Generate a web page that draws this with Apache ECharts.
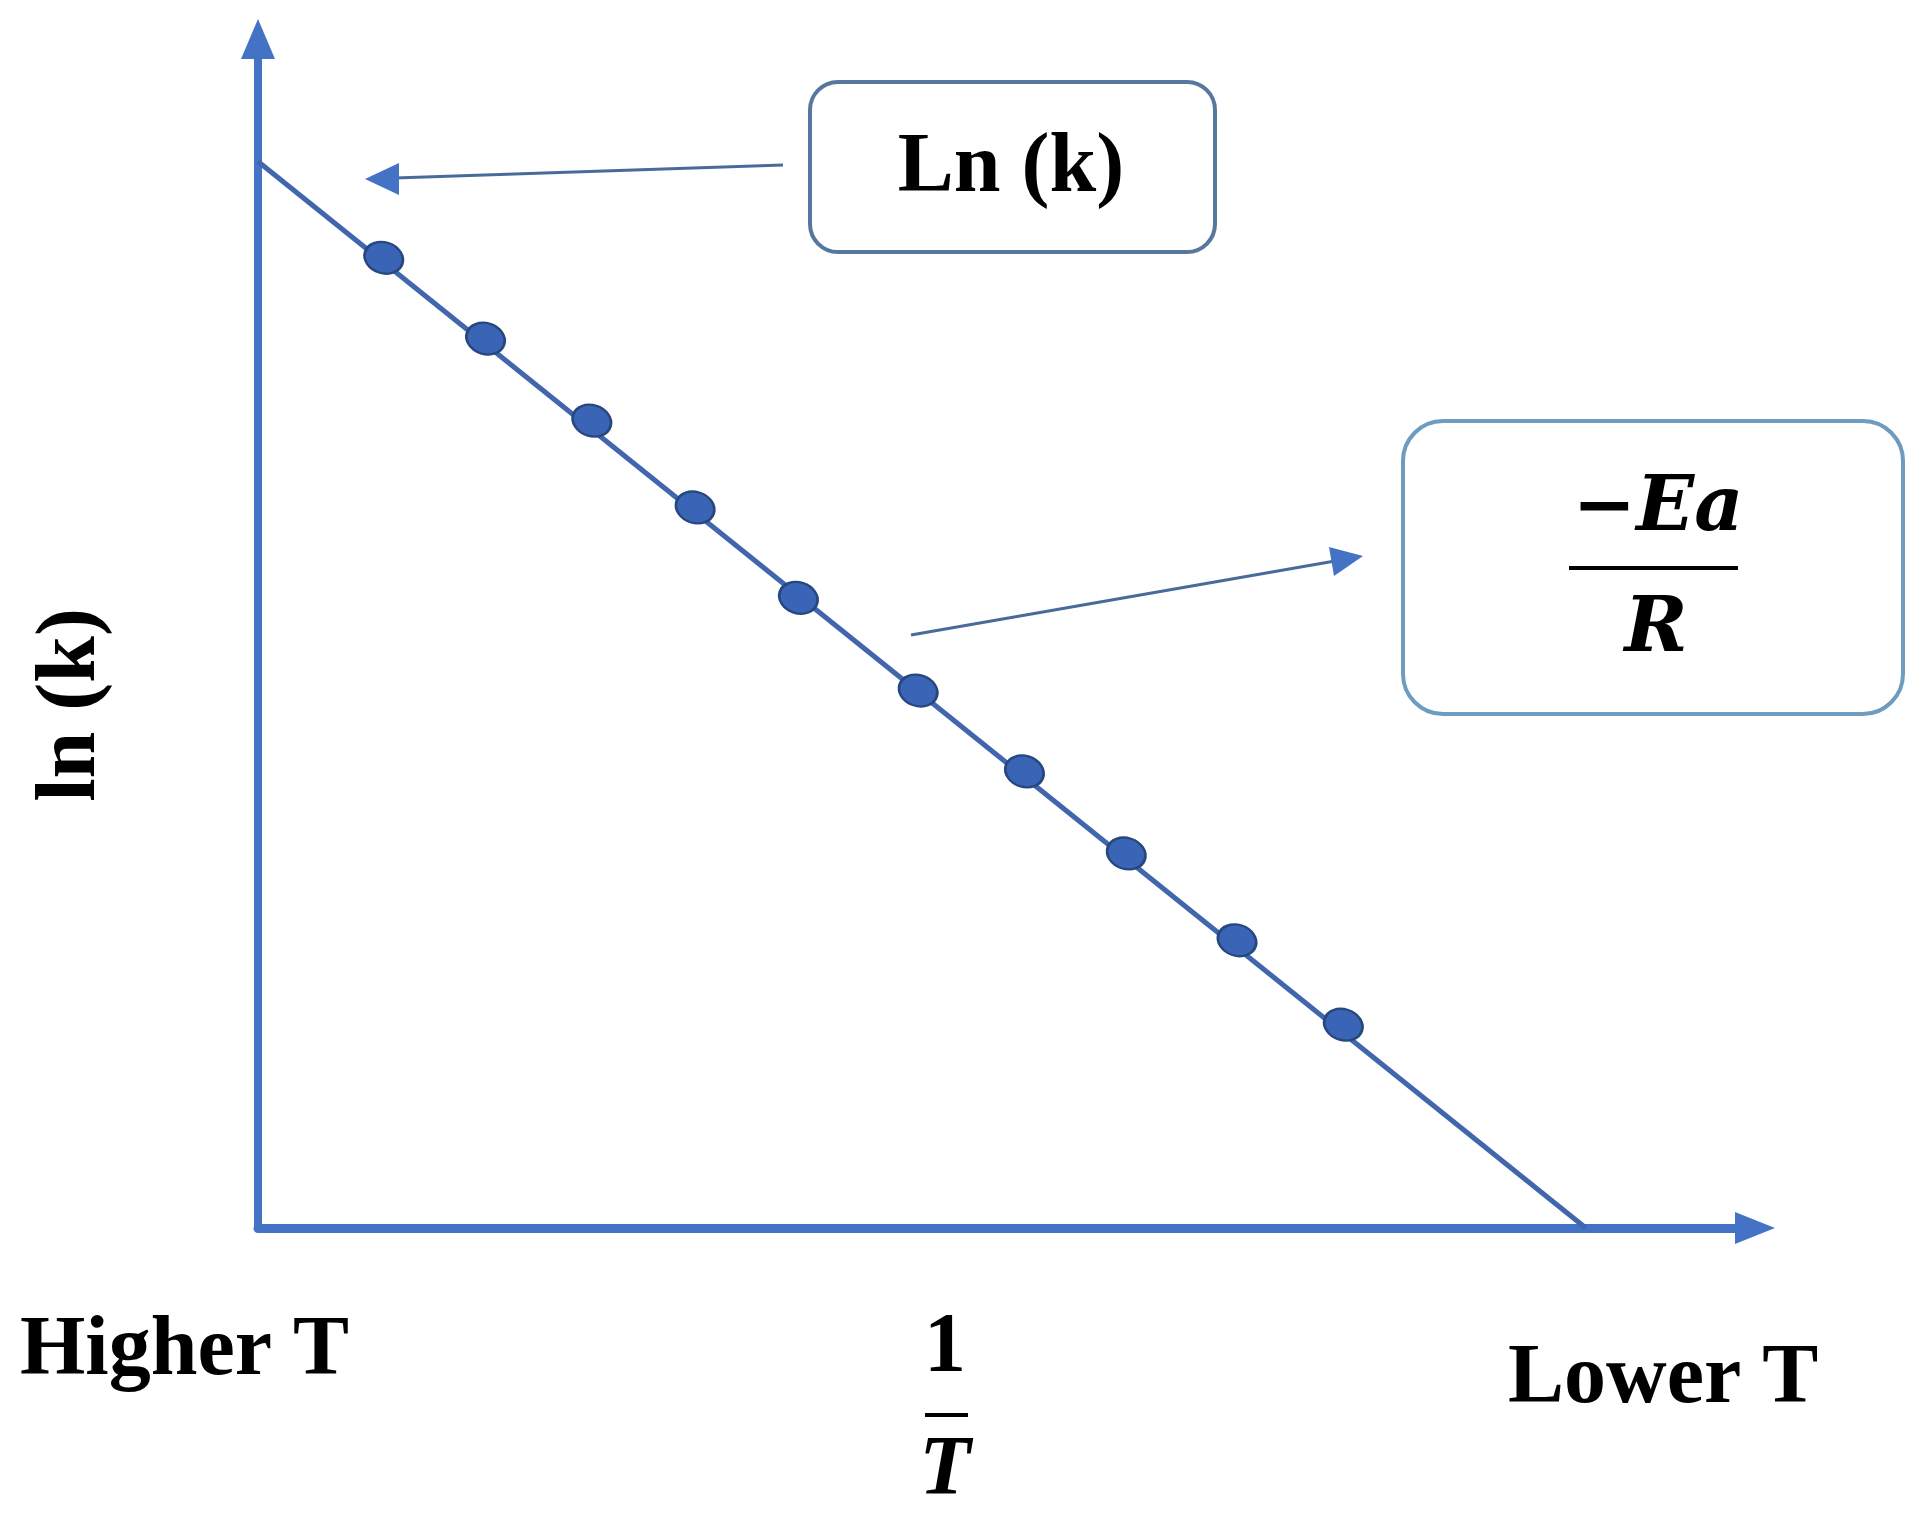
<!DOCTYPE html>
<html>
<head>
<meta charset="utf-8">
<script src="https://cdn.jsdelivr.net/npm/echarts@6/dist/echarts.min.js"></script>
<style>
html,body{margin:0;padding:0;background:#fff;}
#chart{width:1925px;height:1523px;}
</style>
</head>
<body>
<div id="chart"></div>
<script>
// 1/T (arbitrary units) and ln(k) (arbitrary units) of the measured points
const invT = [0.84, 1.52, 2.23, 2.92, 3.61, 4.41, 5.12, 5.80, 6.54, 7.25];
const lnK  = [8.16, 7.48, 6.79, 6.06, 5.30, 4.52, 3.84, 3.15, 2.42, 1.71];
// fitted straight line (intercept on ln(k) axis to intercept on 1/T axis)
const fitX = [0, 8.87];
const fitY = [8.97, 0];
// axis ranges
const xRange = [0, 10];
const yRange = [0, 10];

const FONT = 'Liberation Serif';
const BLUE = '#4472c4';

const chart = echarts.init(document.getElementById('chart'), null, {renderer: 'canvas'});
const option = {
  backgroundColor: '#ffffff',
  animation: false,
  grid: {left: 258, right: 170, top: 39, bottom: 295, containLabel: false},
  xAxis: {
    type: 'value', min: xRange[0], max: xRange[1],
    axisLine: {show: true, lineStyle: {color: BLUE, width: 9}, symbol: ['none', 'triangle'], symbolSize: [32, 40]},
    axisTick: {show: false}, axisLabel: {show: false}, splitLine: {show: false}
  },
  yAxis: {
    type: 'value', min: yRange[0], max: yRange[1],
    axisLine: {show: true, onZero: false, lineStyle: {color: BLUE, width: 8}, symbol: ['none', 'triangle'], symbolSize: [34, 40]},
    axisTick: {show: false}, axisLabel: {show: false}, splitLine: {show: false}
  },
  series: [
    {
      type: 'line',
      data: fitX.map((x, i) => [x, fitY[i]]),
      showSymbol: false,
      lineStyle: {color: '#4266ad', width: 5},
      z: 2
    },
    {
      type: 'scatter',
      data: invT.map((x, i) => [x, lnK[i]]),
      symbol: 'path://M0 16A20 16 0 1 0 40 16A20 16 0 1 0 0 16Z',
      symbolSize: [39, 31],
      symbolRotate: -18,
      itemStyle: {color: '#3a64b5', borderColor: '#27477f', borderWidth: 2.5, opacity: 1},
      z: 3
    }
  ],
  graphic: [
    // Ln (k) callout box
    {type: 'rect', shape: {x: 810, y: 82, width: 405, height: 170, r: 28},
     style: {fill: '#ffffff', stroke: '#56789e', lineWidth: 4}, z: 10},
    {type: 'text', x: 1011, y: 169,
     style: {text: 'Ln (k)', font: 'bold 84px "' + FONT + '"', fill: '#000', textAlign: 'center', textVerticalAlign: 'middle'}, z: 11},
    // arrow from box to intercept
    {type: 'line', shape: {x1: 783, y1: 165, x2: 395, y2: 178}, style: {stroke: '#4a6a9a', lineWidth: 3}, z: 10},
    {type: 'polygon', shape: {points: [[365, 179], [399, 163], [399, 195]]}, style: {fill: BLUE}, z: 10},
    // -Ea/R callout box
    {type: 'rect', shape: {x: 1403, y: 421, width: 500, height: 293, r: 40},
     style: {fill: '#ffffff', stroke: '#6d9cc0', lineWidth: 4}, z: 10},
    {type: 'text', x: 1658, y: 510,
     style: {text: '\u2212Ea', font: 'italic bold 76px "DejaVu Serif"', fill: '#000', textAlign: 'center', textVerticalAlign: 'middle'}, z: 11},
    {type: 'line', shape: {x1: 1569, y1: 568, x2: 1738, y2: 568}, style: {stroke: '#000', lineWidth: 4}, z: 11},
    {type: 'text', x: 1656, y: 631,
     style: {text: 'R', font: 'italic bold 76px "DejaVu Serif"', fill: '#000', textAlign: 'center', textVerticalAlign: 'middle'}, z: 11},
    // arrow from line to slope box
    {type: 'line', shape: {x1: 911, y1: 635, x2: 1335, y2: 561}, style: {stroke: '#4a6a9a', lineWidth: 3}, z: 10},
    {type: 'polygon', shape: {points: [[1363, 556], [1334, 576], [1329, 547]]}, style: {fill: BLUE}, z: 10},
    // y axis title
    {type: 'text', x: 72, y: 705, rotation: Math.PI / 2,
     style: {text: 'ln (k)', font: 'bold 84px "' + FONT + '"', fill: '#000', textAlign: 'center', textVerticalAlign: 'middle'}, z: 11},
    // x axis labels
    {type: 'text', x: 20, y: 1352,
     style: {text: 'Higher T', font: 'bold 84px "' + FONT + '"', fill: '#000', textAlign: 'left', textVerticalAlign: 'middle'}, z: 11},
    {type: 'text', x: 945, y: 1349,
     style: {text: '1', font: 'bold 84px "' + FONT + '"', fill: '#000', textAlign: 'center', textVerticalAlign: 'middle'}, z: 11},
    {type: 'line', shape: {x1: 925, y1: 1415, x2: 968, y2: 1415}, style: {stroke: '#000', lineWidth: 4}, z: 11},
    {type: 'text', x: 945, y: 1472,
     style: {text: 'T', font: 'italic bold 84px "' + FONT + '"', fill: '#000', textAlign: 'center', textVerticalAlign: 'middle'}, z: 11},
    {type: 'text', x: 1508, y: 1380,
     style: {text: 'Lower T', font: 'bold 84px "' + FONT + '"', fill: '#000', textAlign: 'left', textVerticalAlign: 'middle'}, z: 11}
  ]
};
chart.setOption(option);
</script>
</body>
</html>
